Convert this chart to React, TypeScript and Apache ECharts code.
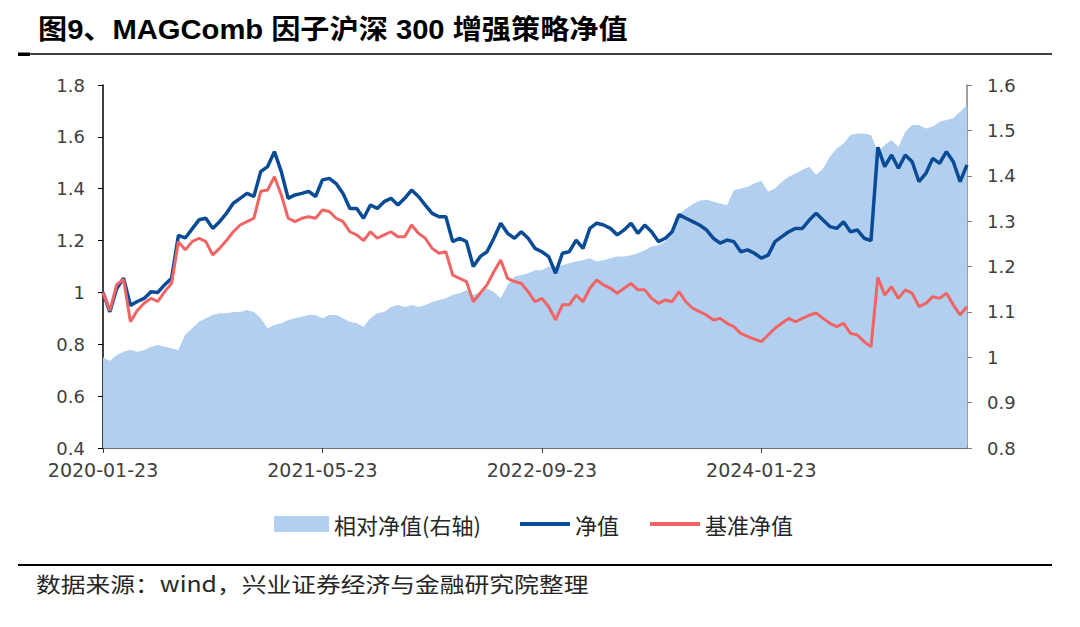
import React, { useEffect, useRef } from "react";
import * as echarts from "echarts";

// 净值 (strategy NAV), read every half month from 2020-01-23
const strategyNav = [
  1.0, 0.925, 1.015, 1.055, 0.95, 0.965, 0.977, 1.003, 1.0, 1.03,
  1.055, 1.22, 1.21, 1.245, 1.28, 1.286, 1.247, 1.273, 1.305, 1.344,
  1.363, 1.382, 1.37, 1.466, 1.485, 1.543, 1.466, 1.363, 1.376, 1.382,
  1.39, 1.37, 1.434, 1.44, 1.42, 1.382, 1.324, 1.324, 1.286, 1.337,
  1.324, 1.35, 1.363, 1.337, 1.363, 1.395, 1.37, 1.337, 1.305, 1.292,
  1.292, 1.196, 1.209, 1.196, 1.1, 1.138, 1.157, 1.209, 1.267, 1.228,
  1.209, 1.234, 1.209, 1.17, 1.157, 1.138, 1.074, 1.151, 1.157, 1.202,
  1.17, 1.247, 1.267, 1.26, 1.247, 1.222, 1.241, 1.267, 1.228, 1.26,
  1.234, 1.196, 1.209, 1.234, 1.3, 1.286, 1.273, 1.26, 1.241, 1.209,
  1.19, 1.202, 1.196, 1.157, 1.164, 1.151, 1.132, 1.144, 1.196, 1.215,
  1.234, 1.247, 1.247, 1.279, 1.305, 1.279, 1.254, 1.247, 1.273, 1.234,
  1.241, 1.209, 1.2, 1.56, 1.485, 1.53, 1.479, 1.53, 1.504, 1.427,
  1.459, 1.517, 1.498, 1.543, 1.504, 1.427, 1.492,
];

// 基准净值 (benchmark NAV)
const benchmarkNav = [
  1.0, 0.93, 1.03, 1.05, 0.887, 0.93, 0.958, 0.977, 0.965, 1.003,
  1.035, 1.196, 1.164, 1.196, 1.209, 1.196, 1.145, 1.17, 1.2, 1.234,
  1.26, 1.273, 1.286, 1.39, 1.395, 1.446, 1.376, 1.286, 1.273, 1.286,
  1.292, 1.286, 1.318, 1.312, 1.286, 1.273, 1.234, 1.222, 1.2, 1.234,
  1.209, 1.222, 1.234, 1.215, 1.215, 1.26, 1.228, 1.209, 1.17, 1.151,
  1.157, 1.067, 1.054, 1.042, 0.964, 0.997, 1.029, 1.08, 1.125, 1.054,
  1.042, 1.035, 1.003, 0.964, 0.977, 0.945, 0.894, 0.952, 0.952, 0.99,
  0.964, 1.016, 1.048, 1.029, 1.016, 0.997, 1.016, 1.035, 1.01, 1.01,
  0.977, 0.958, 0.971, 0.964, 1.003, 0.964, 0.939, 0.926, 0.913, 0.894,
  0.9, 0.881, 0.868, 0.842, 0.83, 0.82, 0.81, 0.836, 0.862, 0.881,
  0.9, 0.887, 0.9, 0.912, 0.921, 0.9, 0.881, 0.868, 0.881, 0.842,
  0.836, 0.81, 0.79, 1.058, 0.99, 1.022, 0.977, 1.01, 0.997, 0.945,
  0.958, 0.984, 0.977, 0.997, 0.952, 0.913, 0.945,
];

// 相对净值(右轴) (relative NAV, right axis)
const relativeNav = [
  1.0, 0.992, 1.005, 1.012, 1.016, 1.012, 1.016, 1.023, 1.027, 1.023,
  1.02, 1.016, 1.05, 1.064, 1.078, 1.086, 1.093, 1.097, 1.097, 1.1,
  1.1, 1.104, 1.1, 1.086, 1.064, 1.071, 1.075, 1.082, 1.086, 1.089,
  1.093, 1.093, 1.086, 1.093, 1.093, 1.086, 1.078, 1.075, 1.067, 1.086,
  1.097, 1.1, 1.111, 1.115, 1.111, 1.115, 1.111, 1.115, 1.122, 1.126,
  1.13, 1.137, 1.141, 1.148, 1.137, 1.144, 1.152, 1.144, 1.13, 1.159,
  1.178, 1.181, 1.185, 1.192, 1.192, 1.2, 1.2, 1.203, 1.207, 1.211,
  1.214, 1.218, 1.211, 1.214, 1.218, 1.222, 1.222, 1.225, 1.229, 1.236,
  1.244, 1.247, 1.255, 1.28, 1.315, 1.327, 1.338, 1.345, 1.347, 1.343,
  1.339, 1.335, 1.368, 1.372, 1.376, 1.383, 1.389, 1.365, 1.372, 1.387,
  1.398, 1.405, 1.413, 1.42, 1.402, 1.416, 1.442, 1.46, 1.471, 1.49,
  1.493, 1.493, 1.49, 1.453, 1.468, 1.479, 1.464, 1.497, 1.512, 1.512,
  1.504, 1.508, 1.519, 1.523, 1.527, 1.541, 1.556,
];

const xTickLabels = ["2020-01-23", "2021-05-23", "2022-09-23", "2024-01-23"];

const titleText = "图9、MAGComb 因子沪深 300 增强策略净值";
const sourceText = "数据来源：wind，兴业证券经济与金融研究院整理";

const seriesNames = ["相对净值(右轴)", "净值", "基准净值"];

function buildDates(n: number): string[] {
  const out: string[] = [];
  for (let i = 0; i < n; i++) {
    const monthsAfter = Math.ceil(i / 2);
    const y = 2020 + Math.floor(monthsAfter / 12);
    const m = (monthsAfter % 12) + 1;
    const d = i % 2 === 0 ? 23 : 8;
    out.push(`${y}-${String(m).padStart(2, "0")}-${String(d).padStart(2, "0")}`);
  }
  return out;
}

const AREA_COLOR = "#B3CFF0";
const BLUE = "#0A4B96";
const RED = "#F06464";
const LABEL_COLOR = "#404040";
const CJK = "'Noto Sans CJK SC', 'Noto Sans', sans-serif";

export default function App() {
  const ref = useRef<HTMLDivElement>(null);

  useEffect(() => {
    if (!ref.current) return;
    const chart = echarts.init(ref.current, null, { renderer: "svg" });
    const dates = buildDates(strategyNav.length);
    const showLabel = (_idx: number, val: string) => xTickLabels.includes(val);

    chart.setOption({
      animation: false,
      backgroundColor: "#ffffff",
      grid: { left: 103, right: 113, top: 85, bottom: 179, containLabel: false },
      legend: [
        {
          data: [{ name: seriesNames[0], icon: "rect" }],
          left: 274,
          top: 513,
          padding: 0,
          itemWidth: 55,
          itemHeight: 16,
          textStyle: { fontSize: 22, color: "#262626", fontFamily: CJK },
        },
        {
          data: [
            { name: seriesNames[1], icon: "rect" },
            { name: seriesNames[2], icon: "rect" },
          ],
          left: 520,
          top: 513,
          padding: 0,
          itemGap: 31,
          itemWidth: 50,
          itemHeight: 4,
          textStyle: { fontSize: 22, color: "#262626", fontFamily: CJK },
        },
      ],
      xAxis: {
        type: "category",
        data: dates,
        boundaryGap: false,
        axisLine: { show: true, lineStyle: { color: "#404040", width: 1.5 } },
        axisTick: { show: true, interval: showLabel, length: 5, lineStyle: { color: "#404040" } },
        axisLabel: {
          interval: showLabel,
          fontSize: 19,
          fontFamily: "'DejaVu Sans', sans-serif",
          color: LABEL_COLOR,
          margin: 12,
        },
        splitLine: { show: false },
      },
      yAxis: [
        {
          type: "value",
          min: 0.4,
          max: 1.8,
          interval: 0.2,
          position: "left",
          axisLine: { show: true, lineStyle: { color: "#000000", width: 1.5 } },
          axisTick: { show: true, length: 5, lineStyle: { color: "#000000" } },
          axisLabel: {
            fontSize: 18,
            fontFamily: "'DejaVu Sans', sans-serif",
            color: LABEL_COLOR,
            margin: 18,
            formatter: (v: number) => String(+v.toFixed(1)),
          },
          splitLine: { show: false },
        },
        {
          type: "value",
          min: 0.8,
          max: 1.6,
          interval: 0.1,
          position: "right",
          axisLine: { show: true, lineStyle: { color: "#808080", width: 1.5 } },
          axisTick: { show: true, length: 5, lineStyle: { color: "#808080" } },
          axisLabel: {
            fontSize: 18,
            fontFamily: "'DejaVu Sans', sans-serif",
            color: LABEL_COLOR,
            margin: 20,
            formatter: (v: number) => String(+v.toFixed(1)),
          },
          splitLine: { show: false },
        },
      ],
      series: [
        {
          name: seriesNames[0],
          type: "line",
          yAxisIndex: 1,
          data: relativeNav,
          symbol: "none",
          lineStyle: { width: 0, color: AREA_COLOR },
          itemStyle: { color: AREA_COLOR },
          areaStyle: { color: AREA_COLOR, opacity: 1, origin: "start" },
          z: 1,
        },
        {
          name: seriesNames[1],
          type: "line",
          yAxisIndex: 0,
          data: strategyNav,
          symbol: "none",
          lineStyle: { width: 3.5, color: BLUE },
          itemStyle: { color: BLUE },
          z: 3,
        },
        {
          name: seriesNames[2],
          type: "line",
          yAxisIndex: 0,
          data: benchmarkNav,
          symbol: "none",
          lineStyle: { width: 3, color: RED },
          itemStyle: { color: RED },
          z: 4,
        },
      ],
      graphic: [
        {
          type: "text",
          x: 38,
          y: 30,
          scaleX: 1.08,
          style: {
            text: titleText,
            fill: "#000000",
            fontSize: 27,
            fontWeight: "bold",
            fontFamily: "'Liberation Sans', 'Noto Sans CJK SC', sans-serif",
            verticalAlign: "middle",
          },
        },
        {
          type: "line",
          shape: { x1: 18, y1: 54, x2: 1052, y2: 54 },
          style: { stroke: "#000000", lineWidth: 1.5 },
        },
        {
          type: "rect",
          shape: { x: 18, y: 52.5, width: 12, height: 3.5 },
          style: { fill: "#000000" },
        },
        {
          type: "line",
          shape: { x1: 18, y1: 565, x2: 1052, y2: 565 },
          style: { stroke: "#000000", lineWidth: 2 },
        },
        {
          type: "text",
          x: 36,
          y: 583,
          scaleX: 1.18,
          style: {
            text: sourceText,
            fill: "#262626",
            fontSize: 21,
            fontFamily: CJK,
            verticalAlign: "middle",
          },
        },
      ],
    });

    return () => chart.dispose();
  }, []);

  return (
    <div
      ref={ref}
      style={{ position: "fixed", left: 0, top: 0, width: 1080, height: 627 }}
    />
  );
}
